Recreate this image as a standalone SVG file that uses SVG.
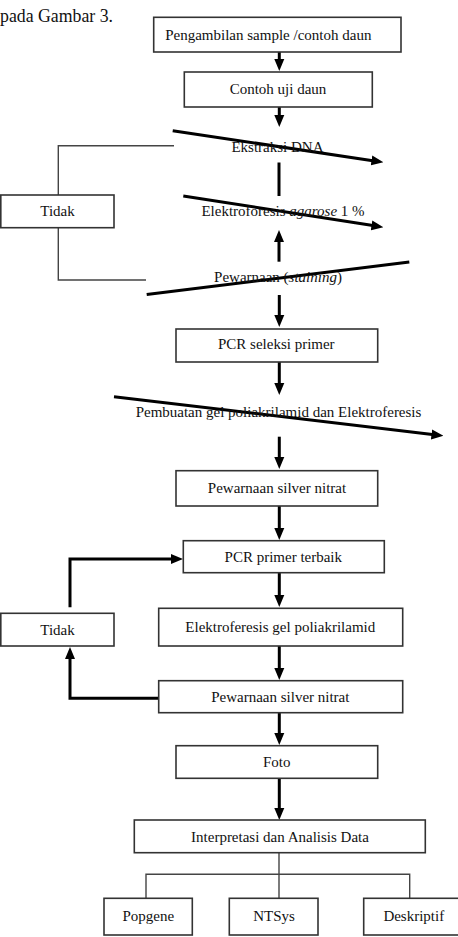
<svg xmlns="http://www.w3.org/2000/svg" width="458" height="937" viewBox="0 0 458 937">
<defs>
<style>
.box{fill:#fff;stroke:#333;stroke-width:1.6}
.t{font-family:"Liberation Serif","Times New Roman",serif;font-size:15px;fill:#111;text-anchor:middle}
.thick{stroke:#000;stroke-width:3;fill:none}
.thin{stroke:#444;stroke-width:1.4;fill:none}
</style>
<marker id="ah" markerUnits="userSpaceOnUse" markerWidth="12" markerHeight="12" viewBox="0 0 12 10" refX="3" refY="5" orient="auto">
<path d="M0,0 L12,5 L0,10 z" fill="#000"/>
</marker>
</defs>
<rect width="458" height="937" fill="#fff"/>
<text x="0" y="22" style="font-family:'Liberation Serif','Times New Roman',serif;font-size:17.8px;fill:#111">pada Gambar 3.</text>

<g id="connectors">
<line class="thick" x1="279.3" y1="52" x2="279.3" y2="62" marker-end="url(#ah)"/>
<line class="thick" x1="279.3" y1="107" x2="279.3" y2="118" marker-end="url(#ah)"/>
<line class="thick" x1="172.7" y1="130.7" x2="374.5" y2="160.9" marker-end="url(#ah)"/>
<line class="thick" x1="279" y1="162.5" x2="279" y2="196"/>
<line class="thick" x1="183.3" y1="196" x2="374.5" y2="225.8" marker-end="url(#ah)"/>
<line class="thick" x1="279" y1="261.7" x2="279" y2="239" marker-end="url(#ah)"/>
<line class="thick" x1="146.7" y1="294.5" x2="409.3" y2="262"/>
<line class="thick" x1="279.3" y1="295" x2="279.3" y2="318" marker-end="url(#ah)"/>
<line class="thick" x1="279.3" y1="362" x2="279.3" y2="386" marker-end="url(#ah)"/>
<line class="thick" x1="114" y1="396.7" x2="434.5" y2="434.8" marker-end="url(#ah)"/>
<line class="thick" x1="279.3" y1="436.7" x2="279.3" y2="460" marker-end="url(#ah)"/>
<line class="thick" x1="279.3" y1="506" x2="279.3" y2="531" marker-end="url(#ah)"/>
<line class="thick" x1="279.3" y1="572.7" x2="279.3" y2="598" marker-end="url(#ah)"/>
<line class="thick" x1="279.3" y1="646" x2="279.3" y2="671" marker-end="url(#ah)"/>
<line class="thick" x1="279.3" y1="712.7" x2="279.3" y2="736" marker-end="url(#ah)"/>
<line class="thick" x1="279.3" y1="778.3" x2="279.3" y2="811" marker-end="url(#ah)"/>
<polyline class="thick" points="70,607.3 70,559 174,559" marker-end="url(#ah)"/>
<polyline class="thick" points="158.7,698.3 70,698.3 70,656" marker-end="url(#ah)"/>
<polyline class="thin" points="174,145.7 58.3,145.7 58.3,195"/>
<polyline class="thin" points="58.3,227.7 58.3,280 146,280"/>
<line class="thin" x1="279" y1="852.7" x2="279" y2="898.3"/>
<polyline class="thin" points="146,898.3 146,874.3 409.7,874.3 409.7,898.3"/>
</g>

<g id="n1"><rect class="box" x="153.7" y="17.3" width="247.3" height="34.7"/><text class="t" x="268.3" y="39.5">Pengambilan sample /contoh daun</text></g>
<g id="n2"><rect class="box" x="184.3" y="72" width="188" height="35"/><text class="t" x="278" y="94">Contoh uji daun</text></g>
<g id="n3"><text class="t" x="277.5" y="152">Ekstraksi DNA</text></g>
<g id="n4"><text class="t" x="283" y="216">Elektroforesis <tspan font-style="italic">agarose</tspan> 1 %</text></g>
<g id="n5"><text class="t" x="278" y="282">Pewarnaan (<tspan font-style="italic">staining</tspan>)</text></g>
<g id="tidak1"><rect class="box" x="0.8" y="195" width="113.2" height="32.7"/><text class="t" x="57.5" y="215.5">Tidak</text></g>
<g id="n6"><rect class="box" x="176" y="329" width="201.7" height="33"/><text class="t" x="276.3" y="349">PCR seleksi primer</text></g>
<g id="n7"><text class="t" x="278.5" y="416.7">Pembuatan gel poliakrilamid dan Elektroferesis</text></g>
<g id="n8"><rect class="box" x="176" y="470.7" width="201.7" height="35.3"/><text class="t" x="277" y="492.5">Pewarnaan silver nitrat</text></g>
<g id="n9"><rect class="box" x="183.3" y="540.7" width="201" height="32"/><text class="t" x="283.3" y="561.5">PCR primer terbaik</text></g>
<g id="n10"><rect class="box" x="158.7" y="608.3" width="244" height="37.7"/><text class="t" x="280.3" y="632">Elektroferesis gel poliakrilamid</text></g>
<g id="tidak2"><rect class="box" x="0.8" y="613.3" width="113.2" height="32.7"/><text class="t" x="57.5" y="634.5">Tidak</text></g>
<g id="n11"><rect class="box" x="158.7" y="680.7" width="244" height="32"/><text class="t" x="280.3" y="701.5">Pewarnaan silver nitrat</text></g>
<g id="n12"><rect class="box" x="176" y="745.7" width="201.7" height="32.6"/><text class="t" x="276.7" y="766.5">Foto</text></g>
<g id="n13"><rect class="box" x="134.3" y="820" width="291" height="32.7"/><text class="t" x="280" y="841.5">Interpretasi dan Analisis Data</text></g>
<g id="n14"><rect class="box" x="104" y="898.3" width="88.3" height="36.7"/><text class="t" x="148.3" y="920.5">Popgene</text></g>
<g id="n15"><rect class="box" x="229.3" y="898.3" width="88.7" height="36.7"/><text class="t" x="274" y="920.5">NTSys</text></g>
<g id="n16"><rect class="box" x="363.7" y="898.3" width="100" height="36.7"/><text class="t" x="413.8" y="920.5">Deskriptif</text></g>
</svg>
